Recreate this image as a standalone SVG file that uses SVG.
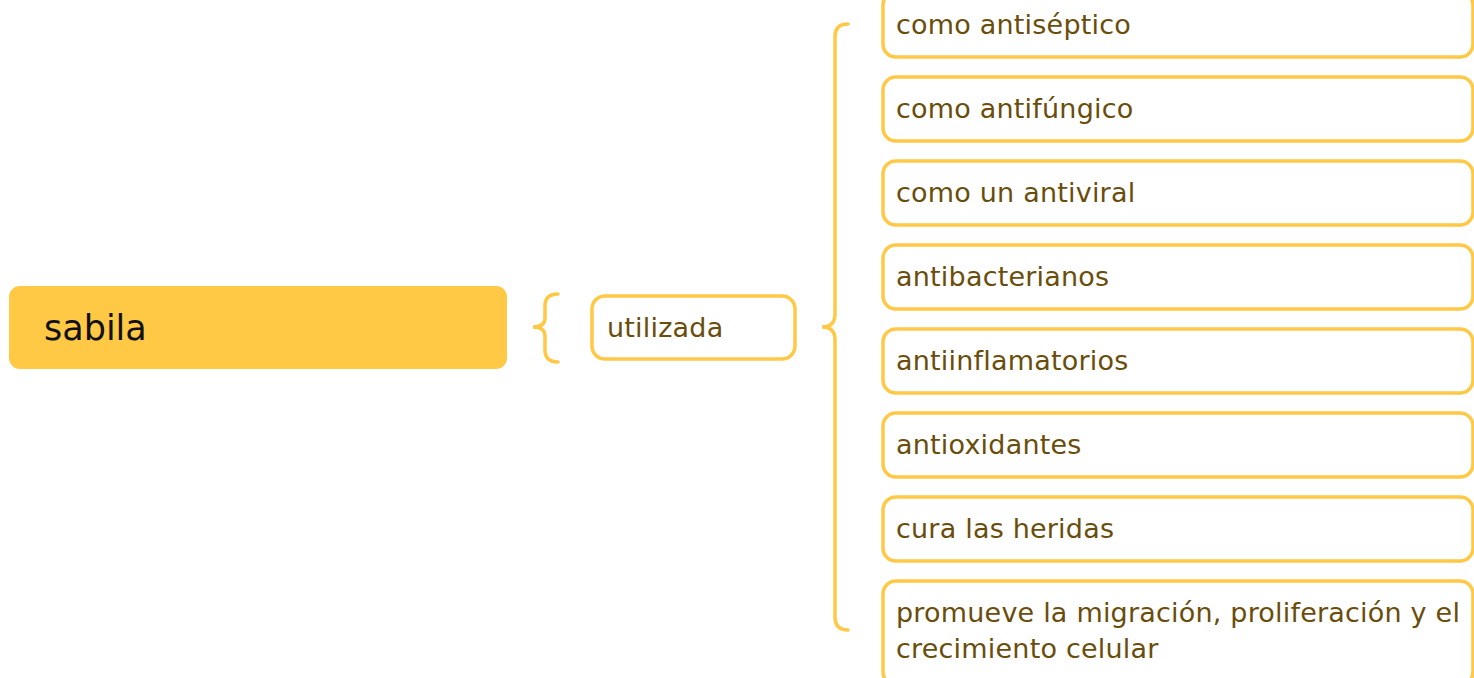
<svg xmlns="http://www.w3.org/2000/svg" width="1474" height="678" viewBox="0 0 1474 678">
<style>
.box{fill:#ffffff;stroke:#FFC845;stroke-width:3.5}
.t{font-family:"DejaVu Sans","Open Sans",sans-serif;font-size:27px;fill:#6A4D0B;letter-spacing:0.2px}
.br{fill:none;stroke:#FFC845;stroke-width:3.5;stroke-linecap:round}
</style>
<rect width="1474" height="678" fill="#ffffff"/>
<g id="connectors">
<path class="br" d="M558,294 Q545,294 545,306 L545,318 Q545,327 533,327 Q545,327 545,336 L545,350 Q545,362 558,362"/>
<path class="br" d="M848,24 Q835,24 835,37 L835,314 Q835,327 822,327 Q835,327 835,340 L835,617 Q835,630 848,630"/>
</g>
<g id="node-sabila">
<rect x="9" y="286" width="498" height="83" rx="11" fill="#FFC845"/>
<text x="44" y="340" font-family="'DejaVu Sans','Open Sans',sans-serif" font-size="35" fill="#111111">sabila</text>
</g>
<g id="node-utilizada">
<rect class="box" x="592" y="296" width="203" height="63" rx="13"/>
<text class="t" x="607" y="337" font-size="26" letter-spacing="0">utilizada</text>
</g>
<g id="node-1"><rect class="box" x="883" y="-8" width="590" height="65" rx="13"/><text class="t" x="896" y="34">como antiséptico</text></g>
<g id="node-2"><rect class="box" x="883" y="77" width="590" height="64" rx="13"/><text class="t" x="896" y="118">como antifúngico</text></g>
<g id="node-3"><rect class="box" x="883" y="161" width="590" height="64" rx="13"/><text class="t" x="896" y="202">como un antiviral</text></g>
<g id="node-4"><rect class="box" x="883" y="245" width="590" height="64" rx="13"/><text class="t" x="896" y="286">antibacterianos</text></g>
<g id="node-5"><rect class="box" x="883" y="329" width="590" height="64" rx="13"/><text class="t" x="896" y="370">antiinflamatorios</text></g>
<g id="node-6"><rect class="box" x="883" y="413" width="590" height="64" rx="13"/><text class="t" x="896" y="454">antioxidantes</text></g>
<g id="node-7"><rect class="box" x="883" y="497" width="590" height="64" rx="13"/><text class="t" x="896" y="538">cura las heridas</text></g>
<g id="node-8"><rect class="box" x="883" y="581" width="590" height="104" rx="13"/><text class="t" x="896" y="622">promueve la migración, proliferación y el</text><text class="t" x="896" y="658">crecimiento celular</text></g>
</svg>
